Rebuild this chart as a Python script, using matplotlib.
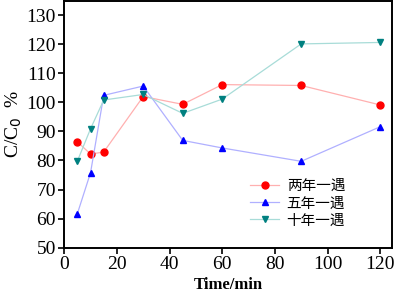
import matplotlib
matplotlib.use("Agg")
import matplotlib.pyplot as plt

# time points (min) and C/C0 (%) for each return period
time = [5, 10, 15, 30, 45, 60, 90, 120]
two_year = [86.4, 82.2, 82.9, 102.0, 99.3, 106.1, 105.8, 99.1]
five_year = [61.7, 75.8, 102.4, 105.6, 86.9, 84.3, 79.7, 91.6]
ten_year = [79.8, 90.9, 100.8, 102.7, 96.2, 101.1, 120.1, 120.6]
labels = ["两年一遇", "五年一遇", "十年一遇"]

plt.rcParams['font.family'] = ['Liberation Serif', 'Noto Sans CJK SC']

fig = plt.figure(figsize=(3.94, 3.02), dpi=100)
ax = fig.add_axes([0.163, 0.18, 0.832, 0.818])

ax.plot(time, two_year, color='#ffb0b0', lw=0.9, marker='o', ms=5,
        mfc='red', mec='red', label=labels[0])
ax.plot(time, five_year, color='#b0b0ff', lw=0.9, marker='^', ms=5,
        mfc='blue', mec='blue', label=labels[1])
ax.plot(time, ten_year, color='#a8dcd8', lw=0.9, marker='v', ms=5,
        mfc='#008080', mec='#008080', label=labels[2])

ax.set_xlim(0, 124.5)
ax.set_ylim(50, 135)
ax.set_xticks([0, 20, 40, 60, 80, 100, 120])
ax.set_yticks(range(50, 131, 10))
ax.tick_params(direction='out', labelsize=14, width=1.2, length=4, pad=2)
for s in ax.spines.values():
    s.set_linewidth(1.4)

ax.set_xlabel('Time/min', fontsize=12, fontweight='bold', labelpad=3)
ax.set_ylabel('C/C$_0$  %', fontsize=14, labelpad=2)

leg = ax.legend(loc='lower right', bbox_to_anchor=(0.897, 0.028), frameon=False,
                prop={'family': ['Noto Sans CJK SC'], 'size': 10.5},
                handlelength=2.0, labelspacing=0.22, handletextpad=0.5)

fig.savefig('out.png', dpi=100)
